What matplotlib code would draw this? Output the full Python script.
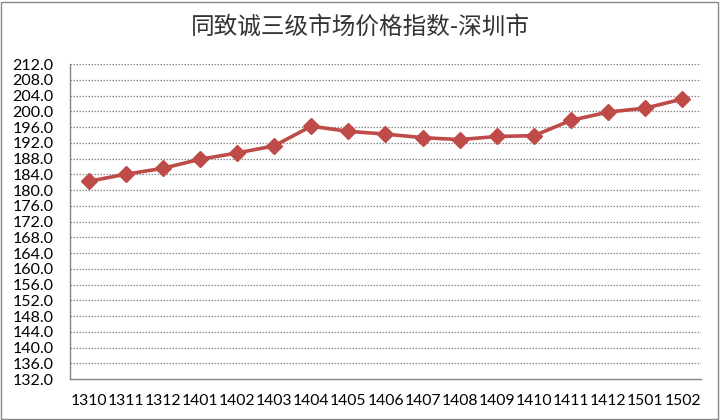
import matplotlib
matplotlib.use("Agg")
import matplotlib.pyplot as plt
from matplotlib.patches import Rectangle

categories = ["1310", "1311", "1312", "1401", "1402", "1403", "1404", "1405", "1406",
              "1407", "1408", "1409", "1410", "1411", "1412", "1501", "1502"]
values = [182.2, 184.0, 185.5, 187.8, 189.4, 191.2, 196.2, 194.9, 194.2,
          193.3, 192.8, 193.6, 193.8, 197.7, 199.8, 200.8, 203.1]
yticks = [132 + 4 * i for i in range(21)]
title = "同致诚三级市场价格指数-深圳市"

fig = plt.figure(figsize=(7.2, 4.2), dpi=100)
fig.patch.set_facecolor("white")
fig.patches.append(Rectangle((0.002, 0.003), 0.995, 0.993, transform=fig.transFigure,
                             fill=False, edgecolor="#868686", linewidth=1.0))

ax = fig.add_axes([0.0972, 0.0976, 0.8764, 0.75])
x = list(range(len(categories)))
ax.plot(x, values, color="#BE4B48", linewidth=2.6, marker="D", markersize=8,
        markerfacecolor="#BE4B48", markeredgecolor="#BE4B48", zorder=3)

ax.set_xlim(-0.5, len(categories) - 0.5)
ax.set_ylim(132, 212)
ax.set_yticks(yticks)
ax.set_yticklabels([f"{v:.1f}" for v in yticks], fontfamily="Lato", fontsize=11.5)
ax.set_xticks(x)
ax.set_xticklabels(categories, fontfamily="Lato", fontsize=11.3)
ax.tick_params(axis="both", length=0, colors="black")
ax.tick_params(axis="x", pad=11)
ax.tick_params(axis="y", pad=12)

for v in yticks[1:]:
    ax.axhline(v, color="#8C8C8C", linewidth=0.9, linestyle=(0, (1.2, 1.2)), zorder=1)

for s in ["top", "right"]:
    ax.spines[s].set_visible(False)
ax.spines["left"].set_color("#868686")
ax.spines["bottom"].set_color("#868686")
ax.spines["left"].set_linewidth(1.0)
ax.spines["bottom"].set_linewidth(1.0)

fig.text(0.5, 0.935, title, ha="center", va="center", fontsize=17,
         color="#333333", family=["Noto Sans CJK SC", "DejaVu Sans"])

fig.savefig("out.png", dpi=100)
